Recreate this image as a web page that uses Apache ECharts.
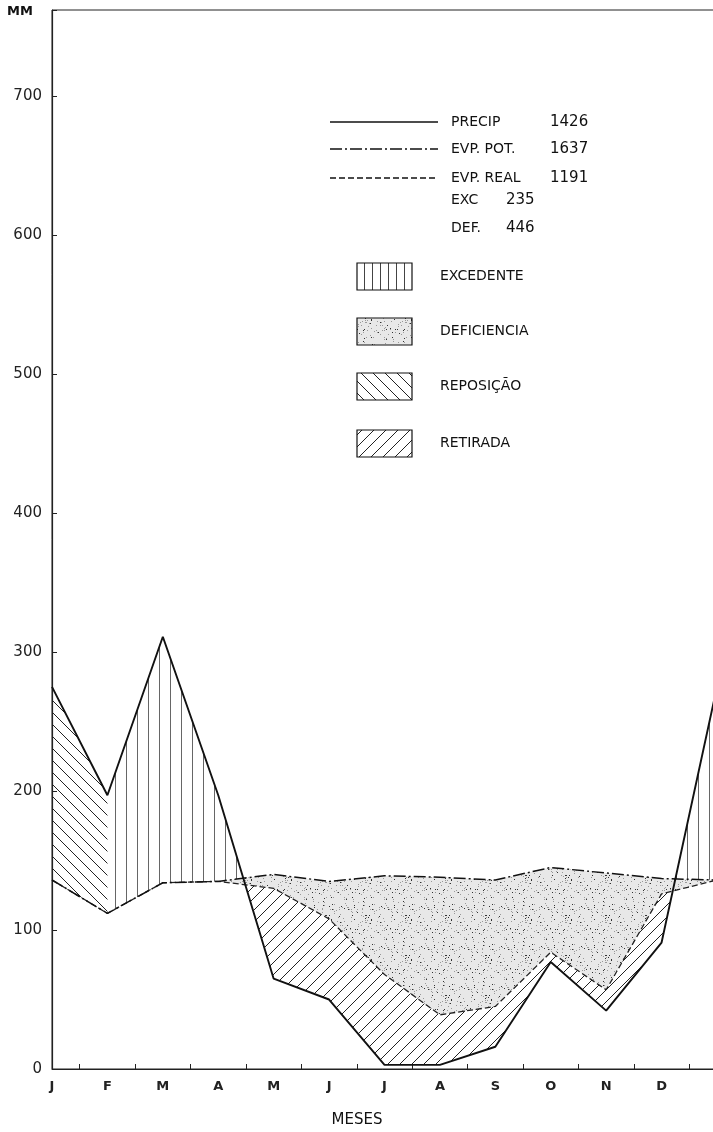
<!DOCTYPE html>
<html><head><meta charset="utf-8">
<script src="https://cdn.jsdelivr.net/npm/echarts@6/dist/echarts.min.js"></script>
<style>html,body{margin:0;padding:0;background:#fff}#c{width:713px;height:1132px}</style>
</head><body><div id="c"></div>
<script>
// ---- data ----
const months = ['J','F','M','A','M','J','J','A','S','O','N','D','J'];
const precip = [275,197,311,197,65,50,3,3,16,77,42,91,275];
const evpPot = [136,112,134,135,140,135,139,138,136,145,141,137,136];
const evpReal = [136,112,134,135,130,108,68,39,45,84,57,126,136];
const yTicks = [0,100,200,300,400,500,600,700];
const legendLines = [['PRECIP','1426'],['EVP. POT.','1637'],['EVP. REAL','1191']];
const legendTotals = [['EXC','235'],['DEF.','446']];
const legendAreas = ['EXCEDENTE','DEFICIENCIA','REPOSIÇÃO','RETIRADA'];

// ---- patterns ----
function tile(w,h,draw){const c=document.createElement('canvas');c.width=w;c.height=h;const g=c.getContext('2d');draw(g,w,h);return {image:c,repeat:'repeat'};}
const patVert = tile(11,11,(g,w,h)=>{g.strokeStyle='#666';g.lineWidth=1;g.beginPath();g.moveTo(5.5,0);g.lineTo(5.5,h);g.stroke();});
const patVertLeg = tile(8,8,(g,w,h)=>{g.strokeStyle='#444';g.lineWidth=1;g.beginPath();g.moveTo(4.5,0);g.lineTo(4.5,h);g.stroke();});
const patSlash = tile(12,12,(g,w,h)=>{g.strokeStyle='#222';g.lineWidth=1;g.beginPath();for(let k=-1;k<=1;k++){g.moveTo(k*w,h);g.lineTo(k*w+w,0);}g.stroke();});
const patBack = tile(12,12,(g,w,h)=>{g.strokeStyle='#222';g.lineWidth=1;g.beginPath();for(let k=-1;k<=1;k++){g.moveTo(k*w,0);g.lineTo(k*w+w,h);}g.stroke();});
const patDots = tile(40,40,(g,w,h)=>{g.fillStyle='#e8e8e8';g.fillRect(0,0,w,h);
  let s=7;for(let i=0;i<110;i++){s=(s*73+41)%997;const x=s%40;s=(s*73+41)%997;const y=s%40;g.fillStyle=(i%3===0)?'#333':'#999';g.fillRect(x,y,1,1);} });

// ---- region polygons between two curves ----
function interp(arr,x){const i=Math.min(Math.floor(x),arr.length-2);const t=x-i;return arr[i]*(1-t)+arr[i+1]*t;}
function regions(U,L,a,b){
  const pts=[a];for(let i=Math.ceil(a);i<=Math.floor(b);i++){if(i>a&&i<b)pts.push(i);}pts.push(b);
  const all=[pts[0]];
  for(let k=1;k<pts.length;k++){const x0=pts[k-1],x1=pts[k];const d0=interp(U,x0)-interp(L,x0),d1=interp(U,x1)-interp(L,x1);
    if((d0>0&&d1<0)||(d0<0&&d1>0))all.push(x0+(x1-x0)*d0/(d0-d1));all.push(x1);}
  const runs=[];let cur=null;
  for(let k=1;k<all.length;k++){const xm=(all[k-1]+all[k])/2;const d=interp(U,xm)-interp(L,xm);
    if(d>0){if(!cur){cur=[all[k-1]];runs.push(cur);}cur.push(all[k]);}else cur=null;}
  return runs.map(r=>r.map(x=>[x,interp(U,x)]).concat(r.slice().reverse().map(x=>[x,interp(L,x)])));
}
function areaSeries(name,polys,fill){
  return {type:'custom',name,coordinateSystem:'cartesian2d',xAxisIndex:0,yAxisIndex:0,silent:true,clip:true,z:1,
    data:[[0,0]],
    renderItem:(p,api)=>({type:'group',children:polys.map(pg=>({type:'polygon',shape:{points:pg.map(pt=>api.coord(pt))},style:{fill:fill,stroke:null}}))})};
}

const FONT='"DejaVu Sans", sans-serif';
const chart=echarts.init(document.getElementById('c'),null,{renderer:'canvas'});

// legend graphics
const g=[];
g.push({type:'text',left:7,top:5,style:{text:'MM',font:'bold 13px '+FONT,fill:'#111'}});
g.push({type:'text',x:357,y:1120,style:{text:'MESES',font:'15px '+FONT,fill:'#111',align:'center',verticalAlign:'middle'}});
const dashes=[null,[12,3,2,3],[6,3]];
const lineY=[122,149,178];
legendLines.forEach((r,i)=>{
  g.push({type:'line',shape:{x1:330,y1:lineY[i],x2:438,y2:lineY[i]},style:{stroke:'#111',lineWidth:1.3,lineDash:dashes[i]}});
  g.push({type:'text',x:451,y:lineY[i],style:{text:r[0],font:'14px '+FONT,fill:'#111',verticalAlign:'middle'}});
  g.push({type:'text',x:550,y:lineY[i],style:{text:r[1],font:'15px '+FONT,fill:'#111',verticalAlign:'middle'}});
});
const totY=[200,228];
legendTotals.forEach((r,i)=>{
  g.push({type:'text',x:451,y:totY[i],style:{text:r[0],font:'14px '+FONT,fill:'#111',verticalAlign:'middle'}});
  g.push({type:'text',x:506,y:totY[i],style:{text:r[1],font:'15px '+FONT,fill:'#111',verticalAlign:'middle'}});
});
const boxY=[263,318,373,430];
const boxFill=[patVertLeg,patDots,patBack,patSlash];
legendAreas.forEach((t,i)=>{
  g.push({type:'rect',shape:{x:357,y:boxY[i],width:55,height:27},style:{fill:boxFill[i],stroke:'#111',lineWidth:1.2}});
  g.push({type:'text',x:440,y:boxY[i]+13,style:{text:t,font:'14px '+FONT,fill:'#111',verticalAlign:'middle'}});
});

const xy=a=>a.map((v,i)=>[i,v]);
chart.setOption({
  animation:false,
  backgroundColor:'#fff',
  grid:{left:52,top:10,width:665,bottom:63,show:true,borderColor:'#222',borderWidth:1,backgroundColor:'transparent',outerBoundsMode:'none',containLabel:false},
  xAxis:[
    {type:'value',min:0,max:12,interval:1,position:'bottom',
     axisLine:{show:true,lineStyle:{color:'#222',width:1}},axisTick:{show:false},splitLine:{show:false},
     axisLabel:{formatter:v=>months[v]||'',fontFamily:FONT,fontSize:13,fontWeight:'bold',color:'#222',margin:11,hideOverlap:false,showMaxLabel:true,showMinLabel:true}},
    {type:'category',data:months.slice(0,12),boundaryGap:true,position:'bottom',offset:0,
     axisLine:{show:false},axisLabel:{show:false},splitLine:{show:false},
     axisTick:{show:true,alignWithLabel:true,inside:true,length:5,lineStyle:{color:'#222'}}}
  ],
  yAxis:{type:'value',min:0,max:762,interval:100,
     axisLine:{show:true,lineStyle:{color:'#222',width:1.2}},
     axisTick:{show:true,inside:true,length:5,lineStyle:{color:'#222'}},
     splitLine:{show:false},
     axisLabel:{formatter:v=>(yTicks.indexOf(v)>=0?String(v):''),fontFamily:FONT,fontSize:15,color:'#222',margin:10}},
  graphic:g,
  series:[
    areaSeries('EXCEDENTE',regions(precip,evpPot,1,12),patVert),
    areaSeries('REPOSIÇÃO',regions(precip,evpPot,0,1),patBack),
    areaSeries('DEFICIENCIA',regions(evpPot,evpReal,0,12),patDots),
    areaSeries('RETIRADA',regions(evpReal,precip,0,12),patSlash),
    {type:'line',name:'EVP. REAL',data:xy(evpReal),xAxisIndex:0,symbol:'none',z:3,lineStyle:{color:'#222',width:1.3,type:[6,3]}},
    {type:'line',name:'EVP. POT.',data:xy(evpPot),xAxisIndex:0,symbol:'none',z:4,lineStyle:{color:'#111',width:1.5,type:[12,3,2,3]}},
    {type:'line',name:'PRECIP',data:xy(precip),xAxisIndex:0,symbol:'none',z:5,lineStyle:{color:'#111',width:1.9}}
  ]
});
</script></body></html>
